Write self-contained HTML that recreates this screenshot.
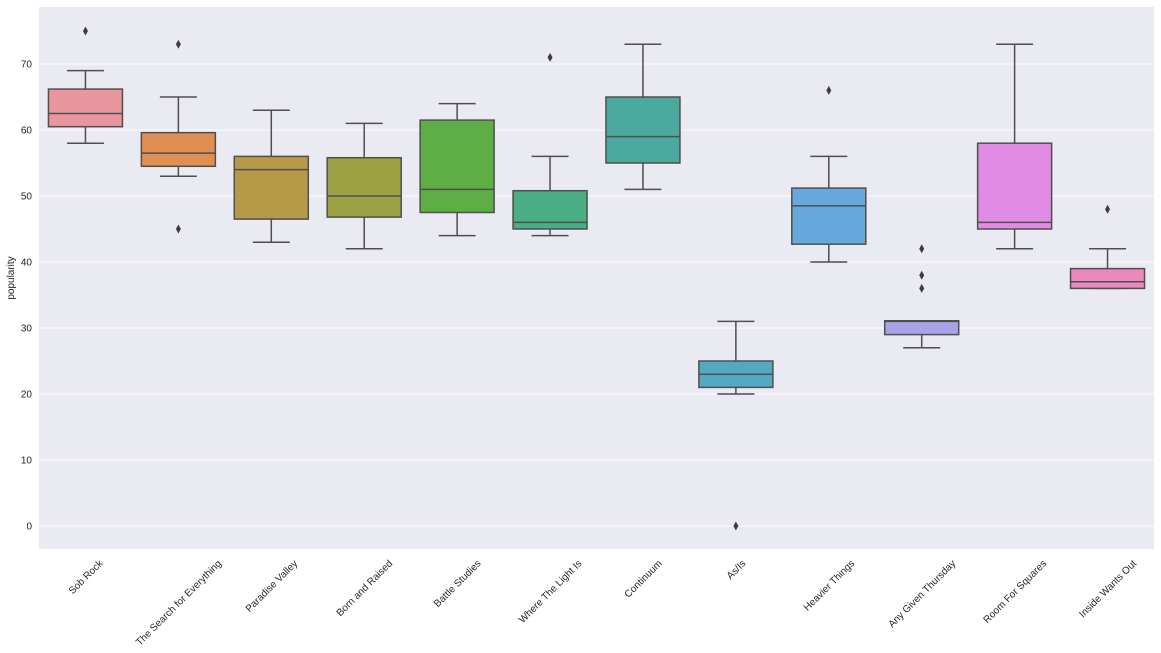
<!DOCTYPE html>
<html><head><meta charset="utf-8"><style>
html,body{margin:0;padding:0;background:#fff;}
svg{display:block;font-family:"Liberation Sans",sans-serif;}
</style></head><body>
<svg id="chart" width="1161" height="653" xmlns="http://www.w3.org/2000/svg">
<rect x="39" y="7" width="1115" height="542" fill="#eaeaf2"/>
<g id="grid"></g>
<g id="boxes"></g>
<g id="labels"></g>
<text transform="translate(14,278) rotate(-90)" text-anchor="middle" font-size="10" fill="#262626">popularity</text>
</svg>
<script>
const categories=["Sob Rock","The Search for Everything","Paradise Valley","Born and Raised","Battle Studies","Where The Light Is","Continuum","As/Is","Heavier Things","Any Given Thursday","Room For Squares","Inside Wants Out"];
const whiskLow=[58,53,43,42,44,44,51,20,40,27,42,36];
const q1=[60.5,54.5,46.5,46.8,47.5,45,55,21,42.7,29,45,36];
const median=[62.5,56.5,54,50,51,46,59,23,48.5,31,46,37];
const q3=[66.2,59.6,56,55.8,61.5,50.8,65,25,51.2,31.1,58,39];
const whiskHigh=[69,65,63,61,64,56,73,31,56,31,73,42];
const outliers=[[75],[73,45],[],[],[],[71],[],[0],[66],[42,38,36],[],[48]];
const colors=["#e9969f","#e08f52","#b59a48","#9ca244","#5eae45","#4aae85","#4ba99f","#53a9c2","#66a9dd","#a8a2e6","#e08ce5","#ea88c0"];
const yTicks=[0,10,20,30,40,50,60,70];
const NS="http://www.w3.org/2000/svg";
const L=39,R=1154,T=7,B=549;
function y(v){return 526-6.6*v;}
function xc(i){return L+(R-L)/categories.length*(i+0.5);}
function mk(tag,attrs,parent){const e=document.createElementNS(NS,tag);for(const k in attrs)e.setAttribute(k,attrs[k]);parent.appendChild(e);return e;}
const grid=document.getElementById('grid'),boxes=document.getElementById('boxes'),labels=document.getElementById('labels');
yTicks.forEach(t=>{
 const g=mk('line',{x1:L,x2:R,y1:y(t),y2:y(t),stroke:'#fff','stroke-width':1},grid);
 
 
 const tx=mk('text',{x:32,y:y(t)+3.5,'text-anchor':'end','font-size':10,fill:'#262626'},labels);
 
 
 tx.textContent=t;
});
const bw=74,st='#4f4f4f';
categories.forEach((c,i)=>{
 const cx=xc(i);
 const g=mk('g',{},boxes);
 
 
 mk('line',{x1:cx,x2:cx,y1:y(whiskLow[i]),y2:y(q1[i]),stroke:st,'stroke-width':1.5},g);
 mk('line',{x1:cx,x2:cx,y1:y(q3[i]),y2:y(whiskHigh[i]),stroke:st,'stroke-width':1.5},g);
 mk('line',{x1:cx-bw/4,x2:cx+bw/4,y1:y(whiskLow[i]),y2:y(whiskLow[i]),stroke:st,'stroke-width':1.5},g);
 mk('line',{x1:cx-bw/4,x2:cx+bw/4,y1:y(whiskHigh[i]),y2:y(whiskHigh[i]),stroke:st,'stroke-width':1.5},g);
 mk('rect',{x:cx-bw/2,y:y(q3[i]),width:bw,height:Math.max(0.5,y(q1[i])-y(q3[i])),fill:colors[i],stroke:st,'stroke-width':1.5},g);
 mk('line',{x1:cx-bw/2,x2:cx+bw/2,y1:y(median[i]),y2:y(median[i]),stroke:st,'stroke-width':1.5},g);
 outliers[i].forEach(o=>{
  const p=mk('path',{d:`M${cx},${y(o)-4.5} L${cx+2.5},${y(o)} L${cx},${y(o)+4.5} L${cx-2.5},${y(o)} Z`,fill:'#3d3d3d'},g);
  
  
 });
 const t=mk('text',{'text-anchor':'middle','font-size':10,fill:'#262626',x:0,y:3.5},labels);
 
 
 t.textContent=c;
 const w=t.getComputedTextLength(),h=10;
 const cy=558+(w+h)*0.7071/2;
 t.setAttribute('transform',`translate(${cx},${cy}) rotate(-45)`);
});
</script>
</body></html>
